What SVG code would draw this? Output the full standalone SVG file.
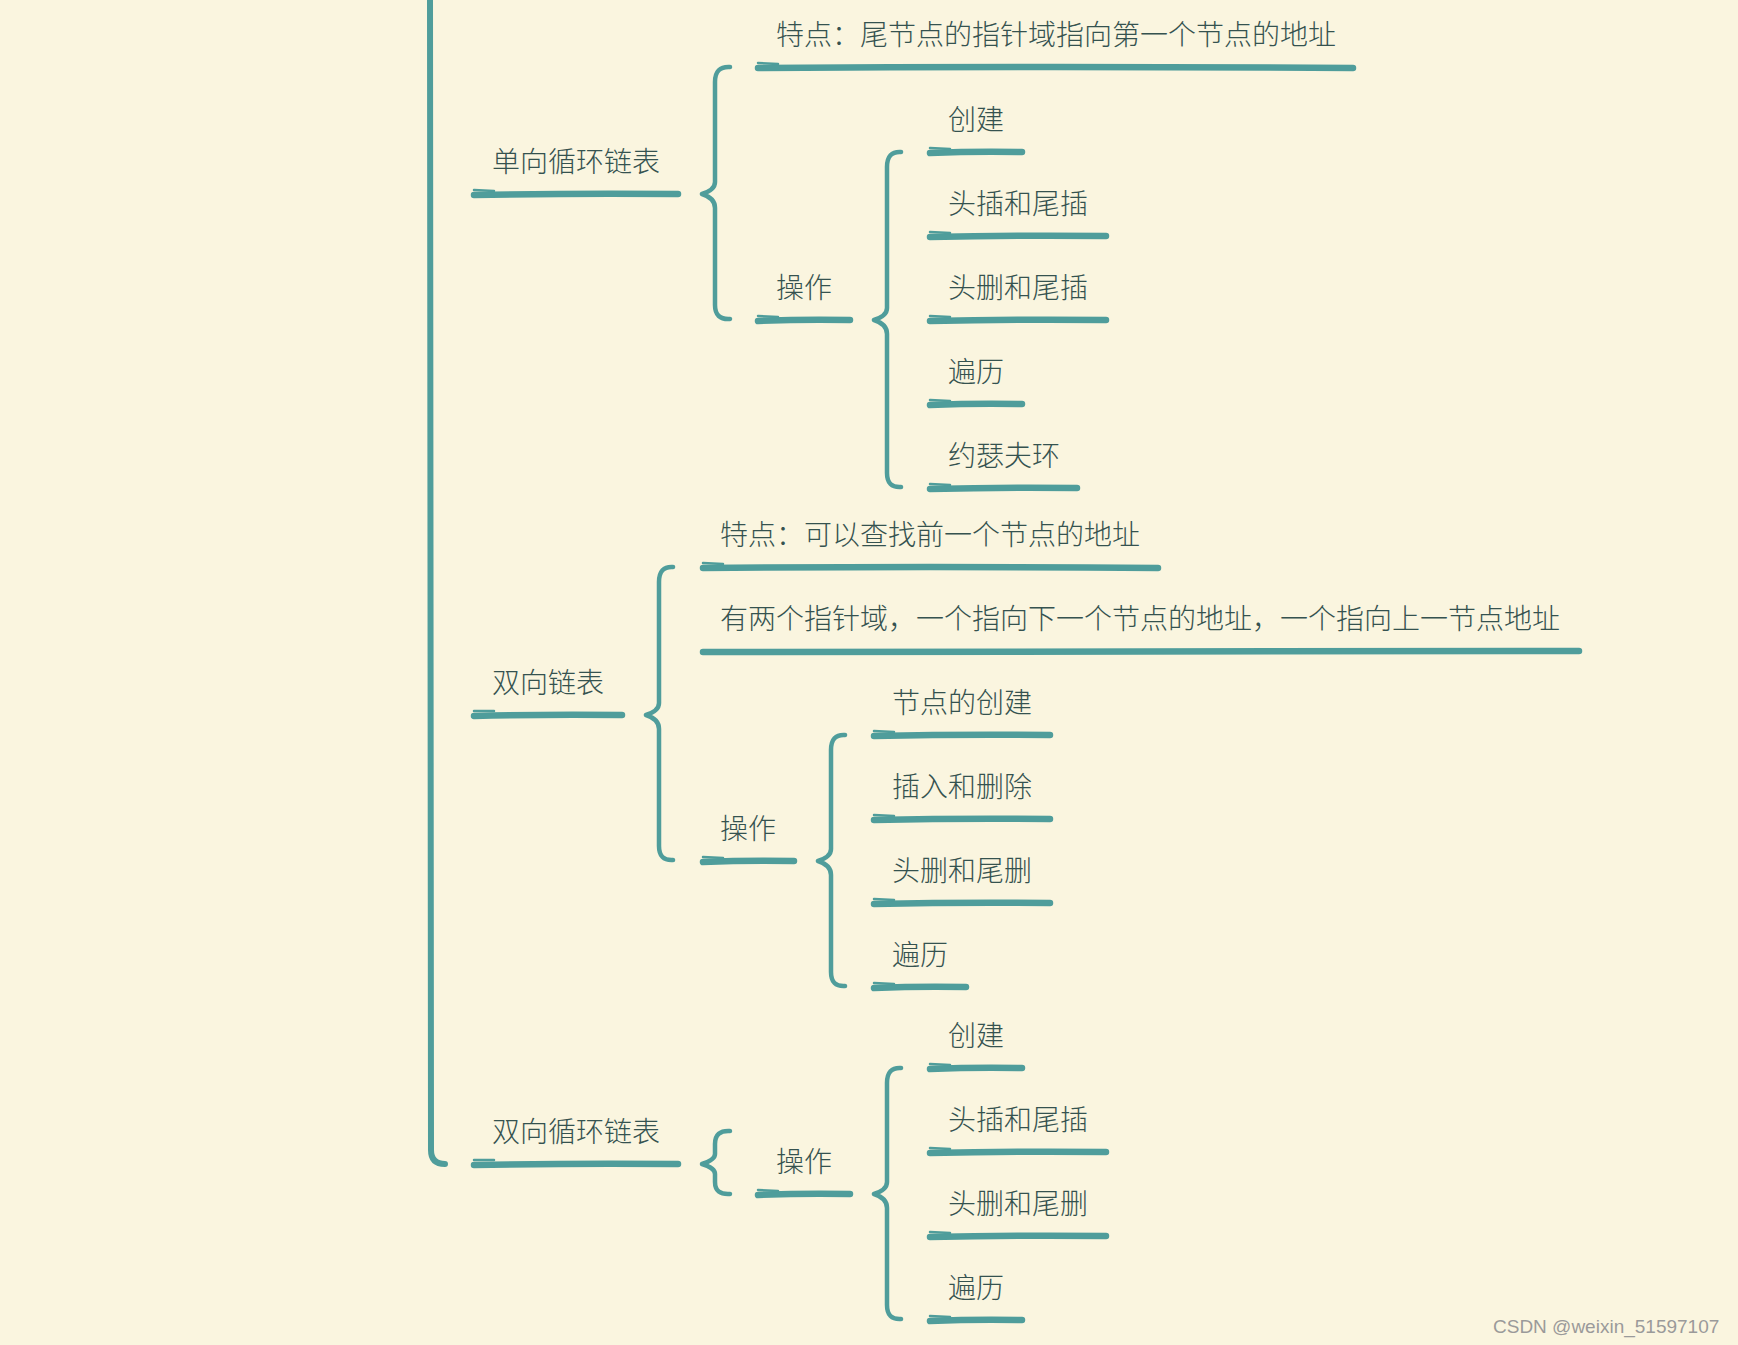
<svg xmlns="http://www.w3.org/2000/svg" width="1738" height="1345" viewBox="0 0 1738 1345">
<style>
.bg{fill:#faf5df}
.t{font-family:"Noto Sans CJK SC","Noto Sans",sans-serif;font-size:28px;font-weight:300;fill:#35524f}
.ul{fill:none;stroke:#4f9d9b;stroke-width:6.5;stroke-linecap:round}
.ul2{fill:none;stroke:#4f9d9b;stroke-width:2.5;stroke-linecap:round}
.br{fill:none;stroke:#4f9d9b;stroke-width:4.5;stroke-linecap:round;stroke-linejoin:round}
.main{fill:none;stroke:#4f9d9b;stroke-width:6;stroke-linecap:round}
.wm{font-family:"Liberation Sans",Arial,sans-serif;font-size:19px;fill:#9a9a9a}
</style>
<rect class="bg" x="0" y="0" width="1738" height="1345"/>
<g id="connectors">
<path class="main" d="M430,-5 L431,1150 Q431,1164 445,1164"/>
<path id="b1" class="br" d="M730,67 Q715,66 715,82 L715,182 Q715,190 702,194 Q715,198 715,208 L715,305 Q715,320 730,319"/>
<path id="b2" class="br" d="M901,152 Q887,151 887,167 L887,308 Q887,316 874,320 Q887,324 887,334 L887,473 Q887,488 901,487"/>
<path id="b3" class="br" d="M673,567 Q659,566 659,582 L659,703 Q659,711 646,715 Q659,719 659,729 L659,846 Q659,861 673,860"/>
<path id="b4" class="br" d="M845,735 Q831,734 831,750 L831,849 Q831,857 818,861 Q831,865 831,875 L831,972 Q831,987 845,986"/>
<path id="b5" class="br" d="M730,1131 Q715,1130 715,1144 L715,1154 Q715,1160 702,1164 Q715,1168 715,1174 L715,1182 Q715,1195 730,1194"/>
<path id="b6" class="br" d="M901,1068 Q887,1067 887,1083 L887,1182 Q887,1190 874,1194 Q887,1198 887,1208 L887,1305 Q887,1320 901,1319"/>
</g>
<g id="n-dxxhlb">
<text class="t" x="492" y="172">单向循环链表</text>
<path class="ul" d="M474,195 Q575,193 678,194"/><path class="ul2" d="M474,190 L494,191"/>
</g>
<g id="n-dxxhlb-td">
<text class="t" x="776" y="45">特点：尾节点的指针域指向第一个节点的地址</text>
<path class="ul" d="M758,68 Q1055,66 1353,68"/><path class="ul2" d="M758,63 L778,64"/>
</g>
<g id="n-dxxhlb-cz">
<text class="t" x="776" y="298">操作</text>
<path class="ul" d="M758,321 Q804,319 850,320"/><path class="ul2" d="M758,316 L778,317"/>
</g>
<g id="n-1-cj">
<text class="t" x="948" y="130">创建</text>
<path class="ul" d="M930,153 Q976,151 1022,152"/><path class="ul2" d="M930,148 L950,149"/>
</g>
<g id="n-1-tc">
<text class="t" x="948" y="214">头插和尾插</text>
<path class="ul" d="M930,237 Q1018,235 1106,236"/><path class="ul2" d="M930,232 L950,233"/>
</g>
<g id="n-1-ts">
<text class="t" x="948" y="298">头删和尾插</text>
<path class="ul" d="M930,321 Q1018,319 1106,320"/><path class="ul2" d="M930,316 L950,317"/>
</g>
<g id="n-1-bl">
<text class="t" x="948" y="382">遍历</text>
<path class="ul" d="M930,405 Q976,403 1022,404"/><path class="ul2" d="M930,400 L950,401"/>
</g>
<g id="n-1-ysfh">
<text class="t" x="948" y="466">约瑟夫环</text>
<path class="ul" d="M930,489 Q1003,487 1077,488"/><path class="ul2" d="M930,484 L950,485"/>
</g>
<g id="n-sxlb">
<text class="t" x="492" y="693">双向链表</text>
<path class="ul" d="M474,716 Q548,714 622,715"/><path class="ul2" d="M474,711 L494,711"/>
</g>
<g id="n-sxlb-td">
<text class="t" x="720" y="545">特点：可以查找前一个节点的地址</text>
<path class="ul" d="M703,568 Q930,566 1158,568"/><path class="ul2" d="M703,563 L723,564"/>
</g>
<g id="n-sxlb-zz">
<text class="t" x="720" y="629">有两个指针域，一个指向下一个节点的地址，一个指向上一节点地址</text>
<path class="ul" d="M703,652 Q1140,651 1579,651"/>
</g>
<g id="n-sxlb-cz">
<text class="t" x="720" y="839">操作</text>
<path class="ul" d="M703,862 Q748,860 794,861"/><path class="ul2" d="M703,857 L723,858"/>
</g>
<g id="n-2-cj">
<text class="t" x="892" y="713">节点的创建</text>
<path class="ul" d="M874,736 Q962,734 1050,735"/><path class="ul2" d="M874,731 L894,732"/>
</g>
<g id="n-2-crsc">
<text class="t" x="892" y="797">插入和删除</text>
<path class="ul" d="M874,820 Q962,818 1050,819"/><path class="ul2" d="M874,815 L894,816"/>
</g>
<g id="n-2-tsws">
<text class="t" x="892" y="881">头删和尾删</text>
<path class="ul" d="M874,904 Q962,902 1050,903"/><path class="ul2" d="M874,899 L894,900"/>
</g>
<g id="n-2-bl">
<text class="t" x="892" y="965">遍历</text>
<path class="ul" d="M874,988 Q920,986 966,987"/><path class="ul2" d="M874,983 L894,984"/>
</g>
<g id="n-sxxhlb">
<text class="t" x="492" y="1142">双向循环链表</text>
<path class="ul" d="M474,1165 Q575,1163 678,1164"/><path class="ul2" d="M474,1160 L494,1160"/>
</g>
<g id="n-sxxhlb-cz">
<text class="t" x="776" y="1172">操作</text>
<path class="ul" d="M758,1195 Q804,1193 850,1194"/><path class="ul2" d="M758,1190 L778,1191"/>
</g>
<g id="n-3-cj">
<text class="t" x="948" y="1046">创建</text>
<path class="ul" d="M930,1069 Q976,1067 1022,1068"/><path class="ul2" d="M930,1064 L950,1065"/>
</g>
<g id="n-3-tc">
<text class="t" x="948" y="1130">头插和尾插</text>
<path class="ul" d="M930,1153 Q1018,1151 1106,1152"/><path class="ul2" d="M930,1148 L950,1149"/>
</g>
<g id="n-3-ts">
<text class="t" x="948" y="1214">头删和尾删</text>
<path class="ul" d="M930,1237 Q1018,1235 1106,1236"/><path class="ul2" d="M930,1232 L950,1233"/>
</g>
<g id="n-3-bl">
<text class="t" x="948" y="1298">遍历</text>
<path class="ul" d="M930,1321 Q976,1319 1022,1320"/><path class="ul2" d="M930,1316 L950,1317"/>
</g>
<text class="wm" x="1493" y="1333">CSDN @weixin_51597107</text>
</svg>
